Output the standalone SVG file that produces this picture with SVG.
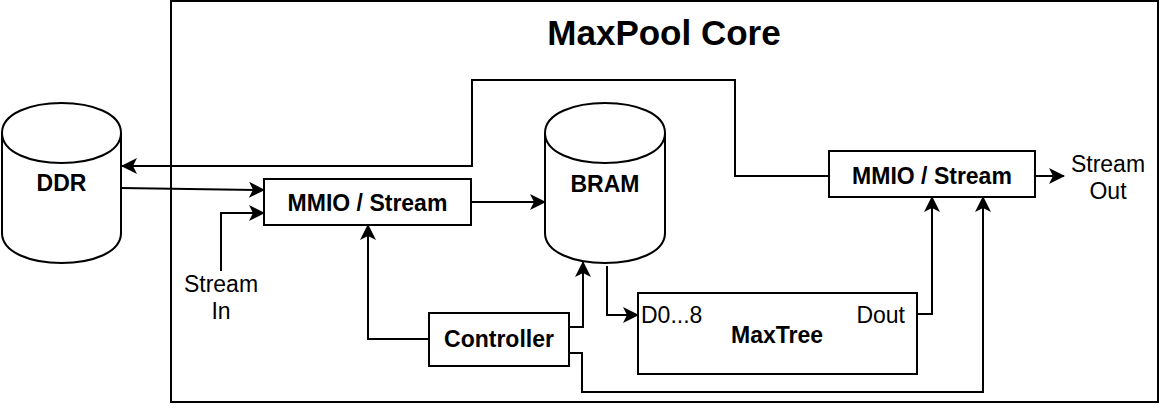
<svg xmlns="http://www.w3.org/2000/svg" width="1162" height="410" viewBox="0 0 1162 410">
<style>
.shape{fill:#fff;stroke:#000;stroke-width:2}
.line{fill:none;stroke:#000;stroke-width:2}
.b{font-family:"Liberation Sans",Arial,sans-serif;font-weight:bold;font-size:23px;fill:#000}
.n{font-family:"Liberation Sans",Arial,sans-serif;font-size:23px;fill:#000}
</style>
<defs>
<marker id="arr" viewBox="0 0 16 16" refX="15" refY="8" markerWidth="16" markerHeight="16" markerUnits="userSpaceOnUse" orient="auto">
<path d="M0,0 L16,8 L0,16 L4,8 Z" fill="#000"/>
</marker>
</defs>
<rect width="1162" height="410" fill="#fff"/>
<g id="core">
<rect class="shape" x="171" y="1" width="987" height="401"/>
<text class="b" x="664" y="45" text-anchor="middle" style="font-size:35px">MaxPool Core</text>
</g>
<g id="ddr">
<path class="shape" d="M2,133 C2,93 121,93 121,133 L121,233 C121,273 2,273 2,233 Z"/>
<path class="line" d="M2,133 C2,173 121,173 121,133"/>
<text class="b" x="61.5" y="191" text-anchor="middle">DDR</text>
</g>
<g id="bram">
<path class="shape" d="M545,133 C545,93 665,93 665,133 L665,233 C665,273 545,273 545,233 Z"/>
<path class="line" d="M545,133 C545,173 665,173 665,133"/>
<text class="b" x="605" y="192" text-anchor="middle">BRAM</text>
</g>
<g id="mmio-in">
<rect class="shape" x="264" y="179" width="207" height="46"/>
<text class="b" x="367.5" y="211" text-anchor="middle">MMIO / Stream</text>
</g>
<g id="mmio-out">
<rect class="shape" x="829" y="151" width="206" height="46"/>
<text class="b" x="932" y="184" text-anchor="middle">MMIO / Stream</text>
</g>
<g id="controller">
<rect class="shape" x="429" y="313" width="140" height="53"/>
<text class="b" x="499" y="347" text-anchor="middle">Controller</text>
</g>
<g id="maxtree">
<rect class="shape" x="638" y="293" width="279" height="81"/>
<text class="n" x="641" y="323">D0...8</text>
<text class="n" x="905" y="323" text-anchor="end">Dout</text>
<text class="b" x="777" y="343" text-anchor="middle">MaxTree</text>
</g>
<g id="stream-in">
<text class="n" x="221" y="292" text-anchor="middle">Stream</text>
<text class="n" x="221" y="319" text-anchor="middle">In</text>
</g>
<g id="stream-out">
<text class="n" x="1108" y="172" text-anchor="middle">Stream</text>
<text class="n" x="1108" y="199" text-anchor="middle">Out</text>
</g>
<g id="connectors">
<path class="line" d="M121,188 L264,190" marker-end="url(#arr)"/>
<path class="line" d="M221,271 L221,213 L264,213" marker-end="url(#arr)"/>
<path class="line" d="M829,176 L735,176 L735,80 L472,80 L472,166 L122,166" marker-end="url(#arr)"/>
<path class="line" d="M471,202 L545,202" marker-end="url(#arr)"/>
<path class="line" d="M1035,176 L1064,176" marker-end="url(#arr)"/>
<path class="line" d="M607,266 L607,315 L638,315" marker-end="url(#arr)"/>
<path class="line" d="M917,314 L932,314 L932,197" marker-end="url(#arr)"/>
<path class="line" d="M569,327 L583,327 L583,262" marker-end="url(#arr)"/>
<path class="line" d="M429,339 L368,339 L368,225" marker-end="url(#arr)"/>
<path class="line" d="M569,353 L582,353 L582,392 L983,392 L983,197" marker-end="url(#arr)"/>
</g>
</svg>
